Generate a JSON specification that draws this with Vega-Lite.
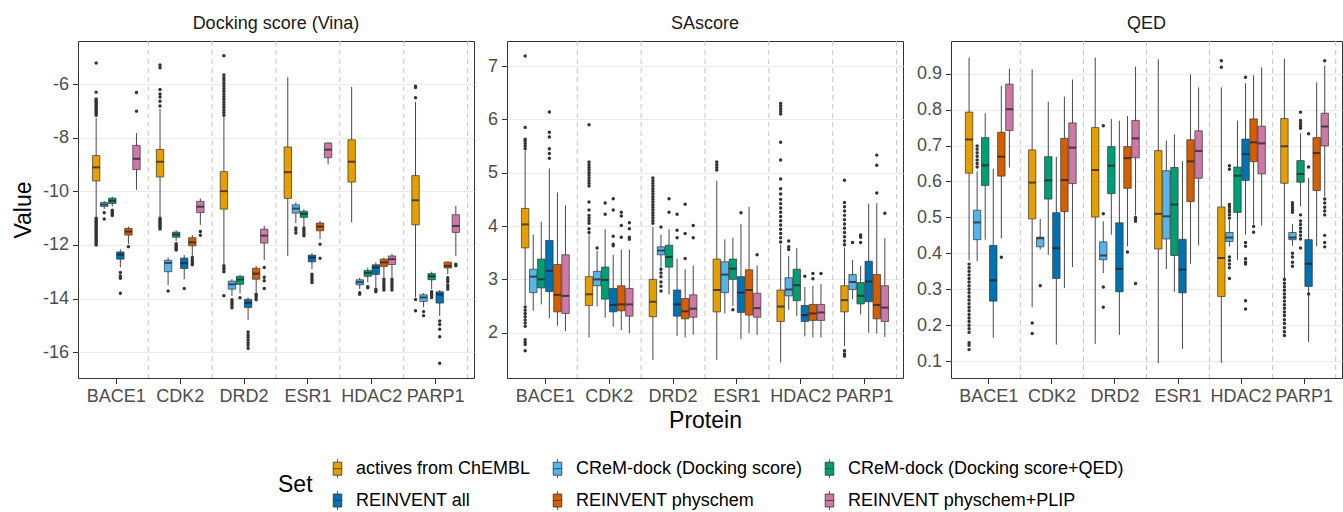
{
"$schema": "https://vega.github.io/schema/vega-lite/v6.json",
"padding": {"left": 11, "top": 14, "right": 0, "bottom": 0},
"spacing": 11,
"config": {
  "font": "Liberation Sans",
  "view": {"stroke": "#333333", "strokeWidth": 1},
  "axis": {"labelFontSize": 18, "labelColor": "#4d4d4d", "tickColor": "#333333", "tickSize": 5.5, "labelPadding": 4, "titleFontSize": 23, "titleFontWeight": "normal", "titleColor": "#000000", "domain": false, "gridColor": "#ebebeb", "gridWidth": 1.2},
  "axisX": {"grid": false, "labelAngle": 0, "titlePadding": 4},
  "axisY": {"grid": true, "titlePadding": 7},
  "title": {"fontSize": 18, "fontWeight": "normal", "color": "#1a1a1a", "offset": 8, "anchor": "middle", "font": "Liberation Sans"}
},
"datasets": {"box": [
{"m":"dock","p":"BACE1","s":"actives from ChEMBL","lo":-10.95,"q1":-9.61,"md":-9.1,"q3":-8.66,"hi":-7.25,"out":[-5.2,-6.29,-6.55,-6.6,-6.65,-6.7,-6.75,-6.8,-6.85,-6.9,-6.95,-7.0,-7.05,-7.1,-7.15,-11.0,-11.05,-11.1,-11.15,-11.2,-11.25,-11.3,-11.35,-11.4,-11.45,-11.5,-11.55,-11.6,-11.65,-11.7,-11.75,-11.8,-11.85,-11.9,-11.95,-12.0]},
{"m":"dock","p":"BACE1","s":"CReM-dock (Docking score)","lo":-10.66,"q1":-10.56,"md":-10.49,"q3":-10.41,"hi":-10.36,"out":[-10.8,-11.03]},
{"m":"dock","p":"BACE1","s":"CReM-dock (Docking score+QED)","lo":-10.56,"q1":-10.45,"md":-10.35,"q3":-10.25,"hi":-10.2,"out":[-10.7,-10.75,-10.8,-10.85,-10.9]},
{"m":"dock","p":"BACE1","s":"REINVENT all","lo":-12.84,"q1":-12.53,"md":-12.36,"q3":-12.26,"hi":-12.16,"out":[-13.03,-13.16,-13.24,-13.8]},
{"m":"dock","p":"BACE1","s":"REINVENT physchem","lo":-11.97,"q1":-11.63,"md":-11.5,"q3":-11.38,"hi":-11.32,"out":[-12.07]},
{"m":"dock","p":"BACE1","s":"REINVENT physchem+PLIP","lo":-9.94,"q1":-9.18,"md":-8.78,"q3":-8.28,"hi":-7.82,"out":[-7.0,-6.3]},
{"m":"dock","p":"CDK2","s":"actives from ChEMBL","lo":-10.97,"q1":-9.46,"md":-8.89,"q3":-8.43,"hi":-6.91,"out":[-6.81,-6.63,-6.47,-6.36,-6.19,-5.38,-5.28,-11.0,-11.05,-11.1,-11.15,-11.2,-11.25,-11.3,-11.35,-11.4]},
{"m":"dock","p":"CDK2","s":"CReM-dock (Docking score)","lo":-13.5,"q1":-13.0,"md":-12.67,"q3":-12.57,"hi":-12.47,"out":[-13.72]},
{"m":"dock","p":"CDK2","s":"CReM-dock (Docking score+QED)","lo":-11.85,"q1":-11.71,"md":-11.61,"q3":-11.52,"hi":-11.45,"out":[-11.95,-12.0,-12.05,-12.1,-12.15,-12.19]},
{"m":"dock","p":"CDK2","s":"REINVENT all","lo":-13.28,"q1":-12.88,"md":-12.68,"q3":-12.49,"hi":-12.38,"out":[-13.63]},
{"m":"dock","p":"CDK2","s":"REINVENT physchem","lo":-12.41,"q1":-12.03,"md":-11.9,"q3":-11.73,"hi":-11.63,"out":[-12.47,-12.55,-12.62,-12.68,-12.74]},
{"m":"dock","p":"CDK2","s":"REINVENT physchem+PLIP","lo":-11.25,"q1":-10.79,"md":-10.57,"q3":-10.37,"hi":-10.26,"out":[-11.5,-11.64]},
{"m":"dock","p":"DRD2","s":"actives from ChEMBL","lo":-12.72,"q1":-10.66,"md":-9.99,"q3":-9.26,"hi":-7.22,"out":[-7.15,-7.05,-6.95,-6.85,-6.75,-6.65,-6.55,-6.45,-6.35,-6.25,-6.15,-6.05,-5.95,-5.85,-5.75,-5.65,-4.93,-12.78,-12.85,-12.92,-13.0,-13.9]},
{"m":"dock","p":"DRD2","s":"CReM-dock (Docking score)","lo":-13.9,"q1":-13.65,"md":-13.47,"q3":-13.35,"hi":-13.28,"out":[-14.05,-14.12,-14.2,-14.27,-14.35]},
{"m":"dock","p":"DRD2","s":"CReM-dock (Docking score+QED)","lo":-13.81,"q1":-13.47,"md":-13.29,"q3":-13.17,"hi":-13.12,"out":[-13.97]},
{"m":"dock","p":"DRD2","s":"REINVENT all","lo":-14.8,"q1":-14.34,"md":-14.16,"q3":-14.03,"hi":-13.96,"out":[-15.25,-15.35,-15.45,-15.55,-15.65,-15.75,-15.86]},
{"m":"dock","p":"DRD2","s":"REINVENT physchem","lo":-13.78,"q1":-13.28,"md":-13.07,"q3":-12.87,"hi":-12.78,"out":[-13.84,-13.9,-13.97,-14.05]},
{"m":"dock","p":"DRD2","s":"REINVENT physchem+PLIP","lo":-12.56,"q1":-11.93,"md":-11.65,"q3":-11.41,"hi":-11.28,"out":[-12.84,-13.21,-13.34,-13.63]},
{"m":"dock","p":"ESR1","s":"actives from ChEMBL","lo":-12.41,"q1":-10.26,"md":-9.28,"q3":-8.34,"hi":-5.73,"out":[]},
{"m":"dock","p":"ESR1","s":"CReM-dock (Docking score)","lo":-11.18,"q1":-10.81,"md":-10.64,"q3":-10.5,"hi":-10.41,"out":[-11.37,-11.45,-11.55]},
{"m":"dock","p":"ESR1","s":"CReM-dock (Docking score+QED)","lo":-11.31,"q1":-10.97,"md":-10.84,"q3":-10.74,"hi":-10.66,"out":[-11.37,-11.45,-11.52,-11.6,-11.66]},
{"m":"dock","p":"ESR1","s":"REINVENT all","lo":-12.9,"q1":-12.63,"md":-12.47,"q3":-12.38,"hi":-12.31,"out":[-13.09,-13.17,-13.25,-13.32,-13.4]},
{"m":"dock","p":"ESR1","s":"REINVENT physchem","lo":-11.78,"q1":-11.47,"md":-11.31,"q3":-11.18,"hi":-11.1,"out":[-11.97,-12.5]},
{"m":"dock","p":"ESR1","s":"REINVENT physchem+PLIP","lo":-8.99,"q1":-8.74,"md":-8.44,"q3":-8.19,"hi":-8.16,"out":[]},
{"m":"dock","p":"HDAC2","s":"actives from ChEMBL","lo":-11.16,"q1":-9.65,"md":-8.89,"q3":-8.07,"hi":-6.09,"out":[]},
{"m":"dock","p":"HDAC2","s":"CReM-dock (Docking score)","lo":-13.65,"q1":-13.49,"md":-13.39,"q3":-13.3,"hi":-13.22,"out":[-13.78,-13.84]},
{"m":"dock","p":"HDAC2","s":"CReM-dock (Docking score+QED)","lo":-13.4,"q1":-13.17,"md":-13.04,"q3":-12.95,"hi":-12.84,"out":[-13.56,-13.6]},
{"m":"dock","p":"HDAC2","s":"REINVENT all","lo":-13.59,"q1":-13.1,"md":-12.84,"q3":-12.74,"hi":-12.65,"out":[-13.65,-13.7,-13.75]},
{"m":"dock","p":"HDAC2","s":"REINVENT physchem","lo":-13.22,"q1":-12.8,"md":-12.65,"q3":-12.53,"hi":-12.47,"out":[-13.28,-13.36,-13.44,-13.52,-13.6,-13.68]},
{"m":"dock","p":"HDAC2","s":"REINVENT physchem+PLIP","lo":-13.22,"q1":-12.73,"md":-12.53,"q3":-12.41,"hi":-12.33,"out":[-13.28,-13.36,-13.44,-13.52,-13.6,-13.68]},
{"m":"dock","p":"PARP1","s":"actives from ChEMBL","lo":-13.95,"q1":-11.25,"md":-10.33,"q3":-9.41,"hi":-6.66,"out":[-6.5,-6.12,-6.07,-14.04,-14.46]},
{"m":"dock","p":"PARP1","s":"CReM-dock (Docking score)","lo":-14.33,"q1":-14.11,"md":-13.96,"q3":-13.86,"hi":-13.8,"out":[-14.49,-14.64]},
{"m":"dock","p":"PARP1","s":"CReM-dock (Docking score+QED)","lo":-13.65,"q1":-13.3,"md":-13.17,"q3":-13.07,"hi":-13.0,"out":[-13.75,-13.82,-13.89,-13.96]},
{"m":"dock","p":"PARP1","s":"REINVENT all","lo":-14.65,"q1":-14.17,"md":-13.85,"q3":-13.75,"hi":-13.68,"out":[-14.84,-14.97,-15.15,-15.43,-16.42]},
{"m":"dock","p":"PARP1","s":"REINVENT physchem","lo":-13.09,"q1":-12.86,"md":-12.78,"q3":-12.64,"hi":-12.62,"out":[-13.22,-13.3,-13.38,-13.5,-13.58,-13.65]},
{"m":"dock","p":"PARP1","s":"REINVENT physchem+PLIP","lo":-12.41,"q1":-11.53,"md":-11.29,"q3":-10.87,"hi":-10.54,"out":[-12.72,-12.78]},
{"m":"sa","p":"BACE1","s":"actives from ChEMBL","lo":2.52,"q1":3.59,"md":4.03,"q3":4.33,"hi":5.41,"out":[5.45,5.5,5.55,5.6,5.63,5.85,7.19,2.48,2.42,2.36,2.3,2.24,2.18,2.12,1.87,1.82,1.78,1.66]},
{"m":"sa","p":"BACE1","s":"CReM-dock (Docking score)","lo":2.41,"q1":2.75,"md":3.05,"q3":3.19,"hi":3.84,"out":[]},
{"m":"sa","p":"BACE1","s":"CReM-dock (Docking score+QED)","lo":2.53,"q1":2.84,"md":3.0,"q3":3.38,"hi":4.08,"out":[]},
{"m":"sa","p":"BACE1","s":"REINVENT all","lo":2.27,"q1":2.77,"md":3.16,"q3":3.73,"hi":5.08,"out":[5.27,5.36,5.45,5.67,5.76,6.14]},
{"m":"sa","p":"BACE1","s":"REINVENT physchem","lo":2.13,"q1":2.39,"md":2.71,"q3":3.28,"hi":4.63,"out":[]},
{"m":"sa","p":"BACE1","s":"REINVENT physchem+PLIP","lo":2.03,"q1":2.36,"md":2.69,"q3":3.46,"hi":4.39,"out":[]},
{"m":"sa","p":"CDK2","s":"actives from ChEMBL","lo":1.91,"q1":2.51,"md":2.72,"q3":3.05,"hi":3.84,"out":[3.88,3.95,4.05,4.1,4.15,4.2,4.3,4.45,4.75,4.8,4.85,4.9,4.95,5.0,5.05,5.1,5.15,5.2,5.9]},
{"m":"sa","p":"CDK2","s":"CReM-dock (Docking score)","lo":2.49,"q1":2.88,"md":3.0,"q3":3.15,"hi":3.53,"out":[3.59]},
{"m":"sa","p":"CDK2","s":"CReM-dock (Docking score+QED)","lo":2.28,"q1":2.63,"md":2.99,"q3":3.23,"hi":3.94,"out":[4.22,4.43]},
{"m":"sa","p":"CDK2","s":"REINVENT all","lo":2.11,"q1":2.39,"md":2.52,"q3":2.83,"hi":3.46,"out":[3.63,3.66,3.81,4.3,4.51]},
{"m":"sa","p":"CDK2","s":"REINVENT physchem","lo":2.05,"q1":2.41,"md":2.53,"q3":2.88,"hi":3.56,"out":[3.79,4.01,4.19,4.26]},
{"m":"sa","p":"CDK2","s":"REINVENT physchem+PLIP","lo":1.99,"q1":2.31,"md":2.53,"q3":2.83,"hi":3.56,"out":[3.75,3.79,3.95,4.06]},
{"m":"sa","p":"DRD2","s":"actives from ChEMBL","lo":1.49,"q1":2.3,"md":2.58,"q3":3.0,"hi":3.98,"out":[4.05,4.1,4.15,4.2,4.25,4.3,4.35,4.4,4.45,4.5,4.55,4.6,4.65,4.7,4.75,4.8,4.85,4.9]},
{"m":"sa","p":"DRD2","s":"CReM-dock (Docking score)","lo":3.22,"q1":3.46,"md":3.54,"q3":3.61,"hi":3.84,"out":[3.98,3.19,3.12,3.05,2.95,2.87,2.78]},
{"m":"sa","p":"DRD2","s":"CReM-dock (Docking score+QED)","lo":2.72,"q1":3.23,"md":3.42,"q3":3.64,"hi":3.94,"out":[4.26,4.51]},
{"m":"sa","p":"DRD2","s":"REINVENT all","lo":1.94,"q1":2.31,"md":2.53,"q3":2.8,"hi":3.39,"out":[3.78,3.92,4.22]},
{"m":"sa","p":"DRD2","s":"REINVENT physchem","lo":1.91,"q1":2.26,"md":2.4,"q3":2.64,"hi":3.19,"out":[3.39,3.86,4.41]},
{"m":"sa","p":"DRD2","s":"REINVENT physchem+PLIP","lo":1.96,"q1":2.29,"md":2.45,"q3":2.71,"hi":3.26,"out":[3.78,4.01]},
{"m":"sa","p":"ESR1","s":"actives from ChEMBL","lo":1.49,"q1":2.39,"md":2.8,"q3":3.38,"hi":4.85,"out":[5.05,5.1,5.15,5.2]},
{"m":"sa","p":"ESR1","s":"CReM-dock (Docking score)","lo":2.36,"q1":2.75,"md":3.09,"q3":3.33,"hi":3.75,"out":[]},
{"m":"sa","p":"ESR1","s":"CReM-dock (Docking score+QED)","lo":2.5,"q1":3.0,"md":3.2,"q3":3.38,"hi":3.78,"out":[2.43]},
{"m":"sa","p":"ESR1","s":"REINVENT all","lo":1.88,"q1":2.38,"md":2.75,"q3":3.05,"hi":4.04,"out":[4.25]},
{"m":"sa","p":"ESR1","s":"REINVENT physchem","lo":1.99,"q1":2.33,"md":2.8,"q3":3.18,"hi":4.36,"out":[]},
{"m":"sa","p":"ESR1","s":"REINVENT physchem+PLIP","lo":1.96,"q1":2.29,"md":2.46,"q3":2.74,"hi":3.26,"out":[3.46]},
{"m":"sa","p":"HDAC2","s":"actives from ChEMBL","lo":1.44,"q1":2.21,"md":2.49,"q3":2.8,"hi":3.65,"out":[3.7,3.78,3.86,3.94,4.02,4.1,4.18,4.26,4.34,4.42,4.5,4.6,4.7,4.88,5.24,5.57,6.1,6.15,6.2,6.25,6.3]},
{"m":"sa","p":"HDAC2","s":"CReM-dock (Docking score)","lo":2.43,"q1":2.69,"md":2.81,"q3":3.03,"hi":3.44,"out":[3.56,3.61,3.72]},
{"m":"sa","p":"HDAC2","s":"CReM-dock (Docking score+QED)","lo":2.31,"q1":2.6,"md":2.89,"q3":3.19,"hi":3.59,"out":[]},
{"m":"sa","p":"HDAC2","s":"REINVENT all","lo":1.93,"q1":2.21,"md":2.33,"q3":2.51,"hi":2.86,"out":[3.06]},
{"m":"sa","p":"HDAC2","s":"REINVENT physchem","lo":1.91,"q1":2.23,"md":2.36,"q3":2.53,"hi":2.88,"out":[3.01,3.11]},
{"m":"sa","p":"HDAC2","s":"REINVENT physchem+PLIP","lo":1.91,"q1":2.23,"md":2.38,"q3":2.53,"hi":2.91,"out":[3.11]},
{"m":"sa","p":"PARP1","s":"actives from ChEMBL","lo":1.75,"q1":2.39,"md":2.61,"q3":2.88,"hi":3.6,"out":[3.65,3.72,3.8,3.88,3.96,4.04,4.12,4.2,4.28,4.36,4.44,4.86,1.66,1.6,1.56]},
{"m":"sa","p":"PARP1","s":"CReM-dock (Docking score)","lo":2.63,"q1":2.81,"md":2.95,"q3":3.09,"hi":3.36,"out":[3.69]},
{"m":"sa","p":"PARP1","s":"CReM-dock (Docking score+QED)","lo":2.34,"q1":2.54,"md":2.69,"q3":2.94,"hi":3.25,"out":[3.69,3.79,3.83]},
{"m":"sa","p":"PARP1","s":"REINVENT all","lo":2.0,"q1":2.58,"md":2.96,"q3":3.34,"hi":4.42,"out":[]},
{"m":"sa","p":"PARP1","s":"REINVENT physchem","lo":1.98,"q1":2.26,"md":2.52,"q3":3.09,"hi":4.43,"out":[4.62,5.14,5.33]},
{"m":"sa","p":"PARP1","s":"REINVENT physchem+PLIP","lo":1.92,"q1":2.21,"md":2.47,"q3":2.88,"hi":3.77,"out":[4.24]},
{"m":"qed","p":"BACE1","s":"actives from ChEMBL","lo":0.38,"q1":0.623,"md":0.717,"q3":0.793,"hi":0.945,"out":[0.37,0.36,0.35,0.34,0.33,0.32,0.31,0.3,0.29,0.28,0.27,0.26,0.25,0.24,0.23,0.22,0.21,0.2,0.19,0.18,0.151,0.144,0.132]},
{"m":"qed","p":"BACE1","s":"CReM-dock (Docking score)","lo":0.378,"q1":0.438,"md":0.486,"q3":0.52,"hi":0.628,"out":[0.64,0.65,0.66,0.67,0.68,0.69,0.699]},
{"m":"qed","p":"BACE1","s":"CReM-dock (Docking score+QED)","lo":0.438,"q1":0.589,"md":0.645,"q3":0.722,"hi":0.79,"out":[]},
{"m":"qed","p":"BACE1","s":"REINVENT all","lo":0.165,"q1":0.267,"md":0.325,"q3":0.422,"hi":0.635,"out":[]},
{"m":"qed","p":"BACE1","s":"REINVENT physchem","lo":0.442,"q1":0.615,"md":0.669,"q3":0.737,"hi":0.866,"out":[0.389]},
{"m":"qed","p":"BACE1","s":"REINVENT physchem+PLIP","lo":0.639,"q1":0.742,"md":0.801,"q3":0.871,"hi":0.914,"out":[]},
{"m":"qed","p":"CDK2","s":"actives from ChEMBL","lo":0.25,"q1":0.496,"md":0.597,"q3":0.688,"hi":0.912,"out":[0.206,0.177]},
{"m":"qed","p":"CDK2","s":"CReM-dock (Docking score)","lo":0.41,"q1":0.418,"md":0.442,"q3":0.445,"hi":0.496,"out":[0.31]},
{"m":"qed","p":"CDK2","s":"CReM-dock (Docking score+QED)","lo":0.396,"q1":0.551,"md":0.603,"q3":0.669,"hi":0.822,"out":[]},
{"m":"qed","p":"CDK2","s":"REINVENT all","lo":0.146,"q1":0.33,"md":0.414,"q3":0.513,"hi":0.668,"out":[]},
{"m":"qed","p":"CDK2","s":"REINVENT physchem","lo":0.304,"q1":0.516,"md":0.604,"q3":0.72,"hi":0.836,"out":[]},
{"m":"qed","p":"CDK2","s":"REINVENT physchem+PLIP","lo":0.362,"q1":0.594,"md":0.694,"q3":0.763,"hi":0.884,"out":[]},
{"m":"qed","p":"DRD2","s":"actives from ChEMBL","lo":0.148,"q1":0.501,"md":0.632,"q3":0.75,"hi":0.945,"out":[]},
{"m":"qed","p":"DRD2","s":"CReM-dock (Docking score)","lo":0.345,"q1":0.382,"md":0.394,"q3":0.432,"hi":0.489,"out":[0.755,0.51,0.306,0.25]},
{"m":"qed","p":"DRD2","s":"CReM-dock (Docking score+QED)","lo":0.452,"q1":0.566,"md":0.644,"q3":0.697,"hi":0.774,"out":[]},
{"m":"qed","p":"DRD2","s":"REINVENT all","lo":0.173,"q1":0.293,"md":0.357,"q3":0.485,"hi":0.769,"out":[]},
{"m":"qed","p":"DRD2","s":"REINVENT physchem","lo":0.419,"q1":0.581,"md":0.665,"q3":0.697,"hi":0.782,"out":[0.404]},
{"m":"qed","p":"DRD2","s":"REINVENT physchem+PLIP","lo":0.506,"q1":0.666,"md":0.72,"q3":0.77,"hi":0.92,"out":[0.5,0.495,0.489,0.316]},
{"m":"qed","p":"ESR1","s":"actives from ChEMBL","lo":0.094,"q1":0.412,"md":0.51,"q3":0.686,"hi":0.94,"out":[]},
{"m":"qed","p":"ESR1","s":"CReM-dock (Docking score)","lo":0.356,"q1":0.44,"md":0.503,"q3":0.63,"hi":0.714,"out":[]},
{"m":"qed","p":"ESR1","s":"CReM-dock (Docking score+QED)","lo":0.293,"q1":0.394,"md":0.536,"q3":0.639,"hi":0.731,"out":[]},
{"m":"qed","p":"ESR1","s":"REINVENT all","lo":0.134,"q1":0.29,"md":0.355,"q3":0.439,"hi":0.656,"out":[]},
{"m":"qed","p":"ESR1","s":"REINVENT physchem","lo":0.371,"q1":0.544,"md":0.656,"q3":0.716,"hi":0.898,"out":[]},
{"m":"qed","p":"ESR1","s":"REINVENT physchem+PLIP","lo":0.422,"q1":0.609,"md":0.685,"q3":0.741,"hi":0.862,"out":[]},
{"m":"qed","p":"HDAC2","s":"actives from ChEMBL","lo":0.095,"q1":0.28,"md":0.387,"q3":0.529,"hi":0.862,"out":[0.918,0.936]},
{"m":"qed","p":"HDAC2","s":"CReM-dock (Docking score)","lo":0.419,"q1":0.433,"md":0.444,"q3":0.458,"hi":0.494,"out":[0.498,0.507,0.515,0.522,0.53,0.536,0.634,0.644,0.39,0.38,0.37,0.36,0.33]},
{"m":"qed","p":"HDAC2","s":"CReM-dock (Docking score+QED)","lo":0.382,"q1":0.514,"md":0.616,"q3":0.64,"hi":0.769,"out":[]},
{"m":"qed","p":"HDAC2","s":"REINVENT all","lo":0.452,"q1":0.603,"md":0.676,"q3":0.718,"hi":0.873,"out":[0.89,0.43,0.42,0.385,0.375,0.37,0.268,0.245]},
{"m":"qed","p":"HDAC2","s":"REINVENT physchem","lo":0.48,"q1":0.655,"md":0.709,"q3":0.774,"hi":0.895,"out":[0.475,0.459]},
{"m":"qed","p":"HDAC2","s":"REINVENT physchem+PLIP","lo":0.477,"q1":0.621,"md":0.706,"q3":0.754,"hi":0.918,"out":[]},
{"m":"qed","p":"PARP1","s":"actives from ChEMBL","lo":0.33,"q1":0.595,"md":0.698,"q3":0.775,"hi":0.942,"out":[0.327,0.317,0.307,0.297,0.287,0.277,0.267,0.257,0.247,0.237,0.227,0.215,0.205,0.193,0.182,0.171]},
{"m":"qed","p":"PARP1","s":"CReM-dock (Docking score)","lo":0.421,"q1":0.438,"md":0.444,"q3":0.458,"hi":0.482,"out":[0.514,0.52,0.527,0.534,0.541,0.4,0.39,0.375,0.364]},
{"m":"qed","p":"PARP1","s":"CReM-dock (Docking score+QED)","lo":0.531,"q1":0.598,"md":0.621,"q3":0.658,"hi":0.734,"out":[0.748,0.755,0.762,0.77,0.793,0.507,0.49,0.48,0.47,0.46,0.45,0.44,0.415]},
{"m":"qed","p":"PARP1","s":"REINVENT all","lo":0.153,"q1":0.308,"md":0.371,"q3":0.438,"hi":0.61,"out":[0.64,0.733,0.287]},
{"m":"qed","p":"PARP1","s":"REINVENT physchem","lo":0.42,"q1":0.575,"md":0.679,"q3":0.722,"hi":0.876,"out":[]},
{"m":"qed","p":"PARP1","s":"REINVENT physchem+PLIP","lo":0.558,"q1":0.699,"md":0.753,"q3":0.79,"hi":0.923,"out":[0.936,0.551,0.54,0.528,0.518,0.507,0.45,0.43,0.418]}
]},
"hconcat": [
{
 "width": 396, "height": 337,
 "title": {"text": "Docking score (Vina)"},
 "data": {"name": "box"},
 "transform": [{"filter": "datum.m === 'dock'"}],
 "encoding": {"x": {"field": "p", "type": "nominal", "scale": {"paddingInner": 0, "paddingOuter": 0.1}, "axis": {"title": null}}},
 "layer": [
  {"transform": [{"filter": "datum.s === 'actives from ChEMBL'"}], "mark": {"type": "rule", "strokeDash": [5, 4], "color": "#c4c4c4", "strokeWidth": 1},
   "encoding": {"x": {"field": "p", "type": "nominal", "bandPosition": 1, "scale": {"paddingInner": 0, "paddingOuter": 0.1}, "axis": {"title": null}}}},
  {"mark": {"type": "rule", "color": "#333333", "strokeWidth": 0.9},
   "encoding": {"xOffset": {"field": "s", "type": "nominal", "scale": {"domain": ["actives from ChEMBL","CReM-dock (Docking score)","CReM-dock (Docking score+QED)","REINVENT all","REINVENT physchem","REINVENT physchem+PLIP"], "paddingInner": 0.08, "paddingOuter": 1.07}},
    "y": {"field": "lo", "type": "quantitative", "scale": {"domain": [-16.97, -4.38], "nice": false, "zero": false}, "axis": {"title": "Value", "values": [-16,-14,-12,-10,-8,-6], "labelExpr": "replace(datum.label, '\u2212', '-')"}},
    "y2": {"field": "hi"}}},
  {"mark": {"type": "bar", "stroke": "#333333", "strokeWidth": 0.7},
   "encoding": {"xOffset": {"field": "s", "type": "nominal", "scale": {"domain": ["actives from ChEMBL","CReM-dock (Docking score)","CReM-dock (Docking score+QED)","REINVENT all","REINVENT physchem","REINVENT physchem+PLIP"], "paddingInner": 0.08, "paddingOuter": 1.07}},
    "y": {"field": "q1", "type": "quantitative", "scale": {"domain": [-16.97, -4.38], "nice": false, "zero": false}, "axis": {"title": "Value", "values": [-16,-14,-12,-10,-8,-6], "labelExpr": "replace(datum.label, '\u2212', '-')"}},
    "y2": {"field": "q3"},
    "color": {"field": "s", "type": "nominal", "scale": {"domain": ["actives from ChEMBL","CReM-dock (Docking score)","CReM-dock (Docking score+QED)","REINVENT all","REINVENT physchem","REINVENT physchem+PLIP"], "range": ["#E69F00","#56B4E9","#009E73","#0072B2","#D55E00","#CC79A7"]},
     "legend": {"title": "Set", "orient": "none", "legendX": 200, "legendY": 417, "direction": "horizontal", "columns": 3, "titleOrient": "left", "titleFontSize": 23, "titleFontWeight": "normal", "titleColor": "#000000", "titlePadding": 14, "labelFontSize": 18, "labelLimit": 500, "labelColor": "#000000", "labelOffset": 8, "columnPadding": 16, "rowPadding": 9, "symbolType": "M-0.43,-0.65H0.43V0.65H-0.43Z M-0.43,0H0.43 M0,-0.65V-0.95 M0,0.65V0.95", "symbolSize": 400, "symbolStrokeColor": "#333333", "symbolStrokeWidth": 0.8, "symbolOpacity": 1}}}},
  {"mark": {"type": "tick", "color": "#1a1a1a", "thickness": 2, "size": 7.3},
   "encoding": {"xOffset": {"field": "s", "type": "nominal", "scale": {"domain": ["actives from ChEMBL","CReM-dock (Docking score)","CReM-dock (Docking score+QED)","REINVENT all","REINVENT physchem","REINVENT physchem+PLIP"], "paddingInner": 0.08, "paddingOuter": 1.07}},
    "y": {"field": "md", "type": "quantitative", "scale": {"domain": [-16.97, -4.38], "nice": false, "zero": false}, "axis": {"title": "Value", "values": [-16,-14,-12,-10,-8,-6], "labelExpr": "replace(datum.label, '\u2212', '-')"}}}},
  {"transform": [{"flatten": ["out"], "as": ["v"]}], "mark": {"type": "circle", "size": 12, "color": "#333333", "opacity": 1},
   "encoding": {"xOffset": {"field": "s", "type": "nominal", "scale": {"domain": ["actives from ChEMBL","CReM-dock (Docking score)","CReM-dock (Docking score+QED)","REINVENT all","REINVENT physchem","REINVENT physchem+PLIP"], "paddingInner": 0.08, "paddingOuter": 1.07}},
    "y": {"field": "v", "type": "quantitative", "scale": {"domain": [-16.97, -4.38], "nice": false, "zero": false}, "axis": {"title": "Value", "values": [-16,-14,-12,-10,-8,-6], "labelExpr": "replace(datum.label, '\u2212', '-')"}}}}
 ]
},
{
 "width": 396, "height": 337,
 "title": {"text": "SAscore"},
 "data": {"name": "box"},
 "transform": [{"filter": "datum.m === 'sa'"}],
 "encoding": {"x": {"field": "p", "type": "nominal", "scale": {"paddingInner": 0, "paddingOuter": 0.1}, "axis": {"title": "Protein"}}},
 "layer": [
  {"transform": [{"filter": "datum.s === 'actives from ChEMBL'"}], "mark": {"type": "rule", "strokeDash": [5, 4], "color": "#c4c4c4", "strokeWidth": 1},
   "encoding": {"x": {"field": "p", "type": "nominal", "bandPosition": 1, "scale": {"paddingInner": 0, "paddingOuter": 0.1}, "axis": {"title": "Protein"}}}},
  {"mark": {"type": "rule", "color": "#333333", "strokeWidth": 0.9},
   "encoding": {"xOffset": {"field": "s", "type": "nominal", "scale": {"domain": ["actives from ChEMBL","CReM-dock (Docking score)","CReM-dock (Docking score+QED)","REINVENT all","REINVENT physchem","REINVENT physchem+PLIP"], "paddingInner": 0.08, "paddingOuter": 1.07}},
    "y": {"field": "lo", "type": "quantitative", "scale": {"domain": [1.15, 7.47], "nice": false, "zero": false}, "axis": {"title": null, "values": [2,3,4,5,6,7]}},
    "y2": {"field": "hi"}}},
  {"mark": {"type": "bar", "stroke": "#333333", "strokeWidth": 0.7},
   "encoding": {"xOffset": {"field": "s", "type": "nominal", "scale": {"domain": ["actives from ChEMBL","CReM-dock (Docking score)","CReM-dock (Docking score+QED)","REINVENT all","REINVENT physchem","REINVENT physchem+PLIP"], "paddingInner": 0.08, "paddingOuter": 1.07}},
    "y": {"field": "q1", "type": "quantitative", "scale": {"domain": [1.15, 7.47], "nice": false, "zero": false}, "axis": {"title": null, "values": [2,3,4,5,6,7]}},
    "y2": {"field": "q3"},
    "color": {"field": "s", "type": "nominal", "scale": {"domain": ["actives from ChEMBL","CReM-dock (Docking score)","CReM-dock (Docking score+QED)","REINVENT all","REINVENT physchem","REINVENT physchem+PLIP"], "range": ["#E69F00","#56B4E9","#009E73","#0072B2","#D55E00","#CC79A7"]},
     "legend": {"title": "Set", "orient": "none", "legendX": 200, "legendY": 417, "direction": "horizontal", "columns": 3, "titleOrient": "left", "titleFontSize": 23, "titleFontWeight": "normal", "titleColor": "#000000", "titlePadding": 14, "labelFontSize": 18, "labelLimit": 500, "labelColor": "#000000", "labelOffset": 8, "columnPadding": 16, "rowPadding": 9, "symbolType": "M-0.43,-0.65H0.43V0.65H-0.43Z M-0.43,0H0.43 M0,-0.65V-0.95 M0,0.65V0.95", "symbolSize": 400, "symbolStrokeColor": "#333333", "symbolStrokeWidth": 0.8, "symbolOpacity": 1}}}},
  {"mark": {"type": "tick", "color": "#1a1a1a", "thickness": 2, "size": 7.3},
   "encoding": {"xOffset": {"field": "s", "type": "nominal", "scale": {"domain": ["actives from ChEMBL","CReM-dock (Docking score)","CReM-dock (Docking score+QED)","REINVENT all","REINVENT physchem","REINVENT physchem+PLIP"], "paddingInner": 0.08, "paddingOuter": 1.07}},
    "y": {"field": "md", "type": "quantitative", "scale": {"domain": [1.15, 7.47], "nice": false, "zero": false}, "axis": {"title": null, "values": [2,3,4,5,6,7]}}}},
  {"transform": [{"flatten": ["out"], "as": ["v"]}], "mark": {"type": "circle", "size": 12, "color": "#333333", "opacity": 1},
   "encoding": {"xOffset": {"field": "s", "type": "nominal", "scale": {"domain": ["actives from ChEMBL","CReM-dock (Docking score)","CReM-dock (Docking score+QED)","REINVENT all","REINVENT physchem","REINVENT physchem+PLIP"], "paddingInner": 0.08, "paddingOuter": 1.07}},
    "y": {"field": "v", "type": "quantitative", "scale": {"domain": [1.15, 7.47], "nice": false, "zero": false}, "axis": {"title": null, "values": [2,3,4,5,6,7]}}}}
 ]
},
{
 "width": 391, "height": 337,
 "title": {"text": "QED"},
 "data": {"name": "box"},
 "transform": [{"filter": "datum.m === 'qed'"}],
 "encoding": {"x": {"field": "p", "type": "nominal", "scale": {"paddingInner": 0, "paddingOuter": 0.1}, "axis": {"title": null}}},
 "layer": [
  {"transform": [{"filter": "datum.s === 'actives from ChEMBL'"}], "mark": {"type": "rule", "strokeDash": [5, 4], "color": "#c4c4c4", "strokeWidth": 1},
   "encoding": {"x": {"field": "p", "type": "nominal", "bandPosition": 1, "scale": {"paddingInner": 0, "paddingOuter": 0.1}, "axis": {"title": null}}}},
  {"mark": {"type": "rule", "color": "#333333", "strokeWidth": 0.9},
   "encoding": {"xOffset": {"field": "s", "type": "nominal", "scale": {"domain": ["actives from ChEMBL","CReM-dock (Docking score)","CReM-dock (Docking score+QED)","REINVENT all","REINVENT physchem","REINVENT physchem+PLIP"], "paddingInner": 0.08, "paddingOuter": 1.07}},
    "y": {"field": "lo", "type": "quantitative", "scale": {"domain": [0.053, 0.991], "nice": false, "zero": false}, "axis": {"title": null, "values": [0.1,0.2,0.3,0.4,0.5,0.6,0.7,0.8,0.9], "format": ".1f"}},
    "y2": {"field": "hi"}}},
  {"mark": {"type": "bar", "stroke": "#333333", "strokeWidth": 0.7},
   "encoding": {"xOffset": {"field": "s", "type": "nominal", "scale": {"domain": ["actives from ChEMBL","CReM-dock (Docking score)","CReM-dock (Docking score+QED)","REINVENT all","REINVENT physchem","REINVENT physchem+PLIP"], "paddingInner": 0.08, "paddingOuter": 1.07}},
    "y": {"field": "q1", "type": "quantitative", "scale": {"domain": [0.053, 0.991], "nice": false, "zero": false}, "axis": {"title": null, "values": [0.1,0.2,0.3,0.4,0.5,0.6,0.7,0.8,0.9], "format": ".1f"}},
    "y2": {"field": "q3"},
    "color": {"field": "s", "type": "nominal", "scale": {"domain": ["actives from ChEMBL","CReM-dock (Docking score)","CReM-dock (Docking score+QED)","REINVENT all","REINVENT physchem","REINVENT physchem+PLIP"], "range": ["#E69F00","#56B4E9","#009E73","#0072B2","#D55E00","#CC79A7"]},
     "legend": {"title": "Set", "orient": "none", "legendX": 200, "legendY": 417, "direction": "horizontal", "columns": 3, "titleOrient": "left", "titleFontSize": 23, "titleFontWeight": "normal", "titleColor": "#000000", "titlePadding": 14, "labelFontSize": 18, "labelLimit": 500, "labelColor": "#000000", "labelOffset": 8, "columnPadding": 16, "rowPadding": 9, "symbolType": "M-0.43,-0.65H0.43V0.65H-0.43Z M-0.43,0H0.43 M0,-0.65V-0.95 M0,0.65V0.95", "symbolSize": 400, "symbolStrokeColor": "#333333", "symbolStrokeWidth": 0.8, "symbolOpacity": 1}}}},
  {"mark": {"type": "tick", "color": "#1a1a1a", "thickness": 2, "size": 7.3},
   "encoding": {"xOffset": {"field": "s", "type": "nominal", "scale": {"domain": ["actives from ChEMBL","CReM-dock (Docking score)","CReM-dock (Docking score+QED)","REINVENT all","REINVENT physchem","REINVENT physchem+PLIP"], "paddingInner": 0.08, "paddingOuter": 1.07}},
    "y": {"field": "md", "type": "quantitative", "scale": {"domain": [0.053, 0.991], "nice": false, "zero": false}, "axis": {"title": null, "values": [0.1,0.2,0.3,0.4,0.5,0.6,0.7,0.8,0.9], "format": ".1f"}}}},
  {"transform": [{"flatten": ["out"], "as": ["v"]}], "mark": {"type": "circle", "size": 12, "color": "#333333", "opacity": 1},
   "encoding": {"xOffset": {"field": "s", "type": "nominal", "scale": {"domain": ["actives from ChEMBL","CReM-dock (Docking score)","CReM-dock (Docking score+QED)","REINVENT all","REINVENT physchem","REINVENT physchem+PLIP"], "paddingInner": 0.08, "paddingOuter": 1.07}},
    "y": {"field": "v", "type": "quantitative", "scale": {"domain": [0.053, 0.991], "nice": false, "zero": false}, "axis": {"title": null, "values": [0.1,0.2,0.3,0.4,0.5,0.6,0.7,0.8,0.9], "format": ".1f"}}}}
 ]
}
]
}
